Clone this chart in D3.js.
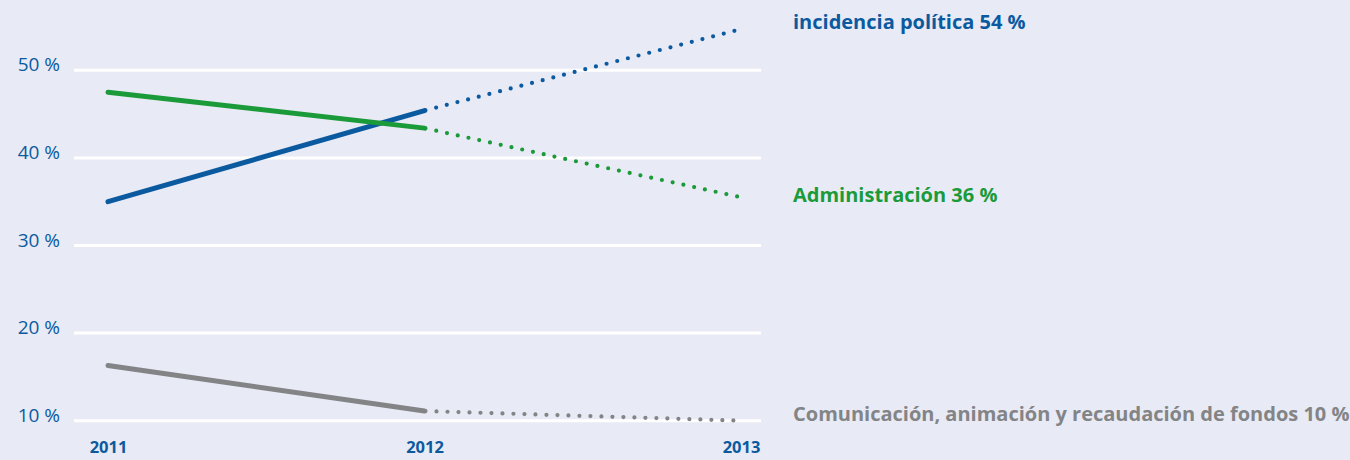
<!DOCTYPE html>
<html>
<head>
<meta charset="utf-8">
<script src="https://cdn.jsdelivr.net/npm/d3@7"></script>
<style>
  html, body { margin: 0; padding: 0; background: #e8eaf5; }
  svg { display: block; }
</style>
</head>
<body>
<script>
const years = [2011, 2012, 2013];
const yTicks = [10, 20, 30, 40, 50];
const seriesNames = ["incidencia política", "Administración", "Comunicación, animación y recaudación de fondos"];
const seriesLabels = ["incidencia política 54 %", "Administración 36 %", "Comunicación, animación y recaudación de fondos 10 %"];
const incidencia = [35, 45.4, 54.7];
const administracion = [47.5, 43.4, 35.5];
const comunicacion = [16.3, 11.1, 10];
const colors = ["#0b5aa0", "#1b9a3a", "#838486"];

const W = 1350, H = 460;
const svg = d3.select("body").append("svg").attr("width", W).attr("height", H);
svg.append("rect").attr("width", W).attr("height", H).attr("fill", "#e8eaf5");

const x = d3.scaleLinear().domain([2011, 2013]).range([108, 741]);
const y = d3.scaleLinear().domain([10, 50]).range([420.7, 70.3]);

// gridlines
svg.append("g").selectAll("line").data(yTicks).join("line")
  .attr("x1", 74).attr("x2", 761)
  .attr("y1", d => y(d)).attr("y2", d => y(d))
  .attr("stroke", "#ffffff").attr("stroke-width", 3);

// y labels
svg.append("g").selectAll("text").data(yTicks).join("text")
  .attr("x", 60).attr("y", d => y(d) + 1)
  .attr("text-anchor", "end")
  .attr("font-family", "'Open Sans', sans-serif")
  .attr("font-size", 19)
  .attr("fill", "#0b5aa0")
  .text(d => d + " %");

// x labels
const xAxis = d3.axisBottom(x).tickValues(years).tickFormat(d3.format("d")).tickSize(0).tickPadding(0);
const gx = svg.append("g").attr("transform", "translate(0,441)").call(xAxis);
gx.select(".domain").remove();
gx.selectAll("text")
  .attr("font-family", "'Open Sans', sans-serif")
  .attr("font-weight", 700)
  .attr("font-size", 16.5)
  .attr("fill", "#0b5aa0");

const data = [incidencia, administracion, comunicacion];
const line = d3.line().x(d => x(d[0])).y(d => y(d[1]));

data.forEach((vals, i) => {
  const pts = years.map((yr, j) => [yr, vals[j]]);
  // solid 2011-2012
  svg.append("path").datum(pts.slice(0, 2))
    .attr("d", line).attr("fill", "none")
    .attr("stroke", colors[i]).attr("stroke-width", 5)
    .attr("stroke-linecap", "round");
  // dotted 2012-2013
  svg.append("path").datum(pts.slice(1, 3))
    .attr("d", line).attr("fill", "none")
    .attr("stroke", colors[i]).attr("stroke-width", 4.2)
    .attr("stroke-linecap", "round")
    .attr("stroke-dasharray", "0 11")
    .attr("stroke-dashoffset", -12);
});

// right labels
const labelY = [29, 202, 421];
svg.append("g").selectAll("text").data(seriesLabels).join("text")
  .attr("x", 793).attr("y", (d, i) => labelY[i])
  .attr("font-family", "'Open Sans', sans-serif")
  .attr("font-weight", 700)
  .attr("font-size", 20)
  .attr("fill", (d, i) => colors[i])
  .text(d => d);
</script>
</body>
</html>
